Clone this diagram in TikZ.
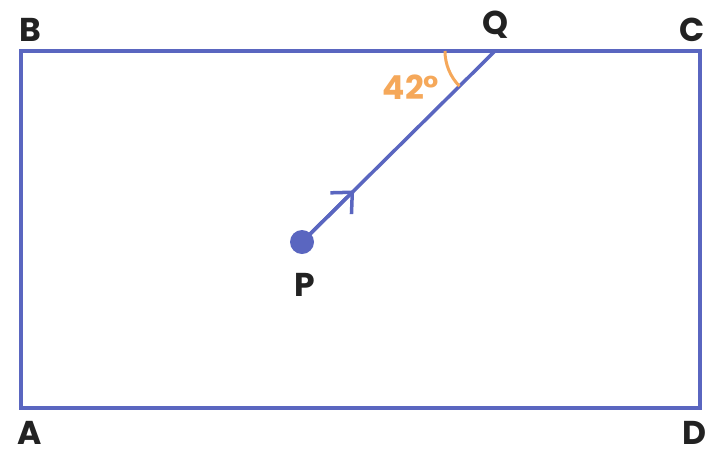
\documentclass[tikz,border=0pt]{standalone}
\usepackage{fontspec}
\setsansfont{Poppins}
\usetikzlibrary{arrows.meta,calc}
\definecolor{edgeblue}{HTML}{5A66C0}
\definecolor{angleorange}{HTML}{F5A85A}
\definecolor{labelgray}{HTML}{222222}
\begin{document}
\begin{tikzpicture}[
    x=1pt,y=-1pt,
    corner/.style={font={\fontsize{33}{33}\selectfont\sffamily\bfseries},text=labelgray,inner sep=0pt},
    edge/.style={edgeblue,line width=3.5pt},
    ]
    \useasboundingbox (0,0) rectangle (720,456);
    % Corners
    \coordinate (A) at (21,408);
    \coordinate (B) at (21,51);
    \coordinate (C) at (700,51);
    \coordinate (D) at (700,408);
    \coordinate (Q) at (495,51);
    \coordinate (P) at (302,242);
    % Rectangle
    \draw[edge,line join=miter] (A) -- (B) -- (C) -- (D) -- cycle;
    % Ray from P to Q
    \draw[edge] (P) -- (Q);
    \draw[edge,-{Straight Barb[length=16pt,width=30pt]}]
         (P) -- ($(P)!0.27!(Q)$);
    \fill[edgeblue] (P) circle (12);
    % Angle at Q
    \draw[angleorange,line width=3pt] ($(Q)+(-50,0)$) arc[start angle=180,end angle=135.3,radius=50];
    \node[corner,text=angleorange] (ang) at (411,87) {42°};
    % Labels
    \node[corner] (lA) at (30,433) {A};
    \node[corner] (lB) at (30,30) {B};
    \node[corner] (lC) at (692,30) {C};
    \node[corner] (lD) at (694,433) {D};
    \node[corner] (lQ) at (495,25) {Q};
    \node[corner] (lP) at (305,285) {P};
\end{tikzpicture}
\end{document}
